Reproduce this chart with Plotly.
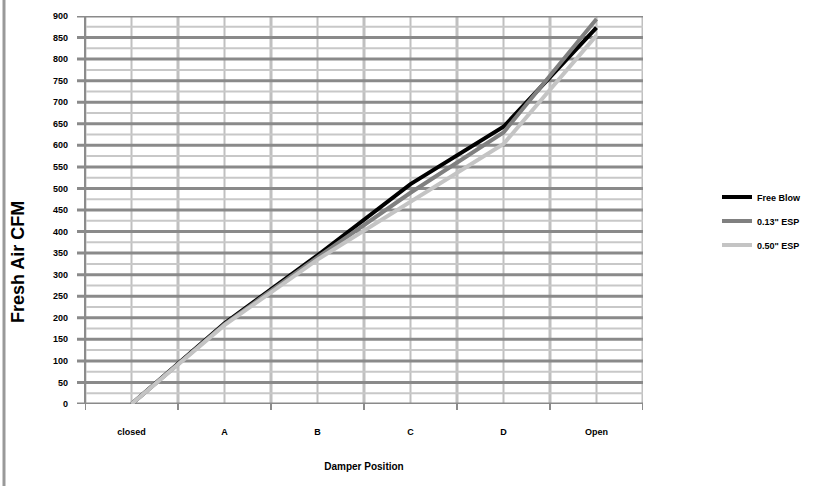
import plotly.graph_objects as go

categories = ["closed", "A", "B", "C", "D", "Open"]
free_blow = [0, 187, 345, 510, 643, 873]
esp_013 = [0, 185, 340, 490, 630, 893]
esp_050 = [0, 183, 335, 470, 603, 855]
y_ticks = list(range(0, 901, 50))

series = [
    ("Free Blow", free_blow, "#000000"),
    ('0.13" ESP', esp_013, "#808080"),
    ('0.50" ESP', esp_050, "#c4c4c4"),
]

FONT = "Liberation Sans, Arial"

fig = go.Figure()
for i, (name, vals, col) in enumerate(series):
    fig.add_trace(go.Scatter(x=list(range(len(categories))), y=vals, name=name,
                             legendgroup=f"g{i}",
                             mode="lines", line=dict(color=col, width=4)))

W, H = 835, 486
L, R, T, B = 85, 192, 16, 82
pw = W - L - R
ph = H - T - B
n = len(categories)

shapes = []
# vertical gridlines at category boundaries and centers
for k in range(2 * n + 1):
    xv = -0.5 + k * 0.5
    shapes.append(dict(type="line", xref="x", yref="paper", x0=xv, x1=xv, y0=0, y1=1,
                       line=dict(color="#c0c0c0", width=3 if k % 2 == 0 else 2), layer="below"))
# horizontal minor lines every 25
for v in range(25, 900, 50):
    shapes.append(dict(type="line", xref="paper", yref="y", x0=0, x1=1, y0=v, y1=v,
                       line=dict(color="#c8c8c8", width=2), layer="below"))
# horizontal major lines every 50
for v in y_ticks:
    shapes.append(dict(type="line", xref="paper", yref="y", x0=-8 / pw, x1=1, y0=v, y1=v,
                       line=dict(color="#8a8a8a", width=3), layer="below"))
# left axis line
shapes.append(dict(type="line", xref="paper", yref="paper", x0=0, x1=0, y0=0, y1=1,
                   line=dict(color="#8c8c8c", width=2), layer="below"))
# x tick marks at category boundaries
for k in range(n + 1):
    xv = -0.5 + k
    shapes.append(dict(type="line", xref="x", yref="paper", x0=xv, x1=xv, y0=0, y1=-6 / ph,
                       line=dict(color="#8c8c8c", width=2)))
# chart outer left border
shapes.append(dict(type="line", xref="paper", yref="paper", x0=-(L - 4) / pw, x1=-(L - 4) / pw,
                   y0=-(B) / ph, y1=1 + T / ph, line=dict(color="#999999", width=3)))

annotations = [
    dict(text="<b>Fresh Air CFM</b>", xref="paper", yref="paper",
         x=(18 - L) / pw, y=1 - (262 - T) / ph, textangle=-90, showarrow=False,
         xanchor="center", yanchor="middle", font=dict(size=18, family=FONT, color="black")),
]

fig.update_layout(
    width=W, height=H,
    margin=dict(l=L, r=R, t=T, b=B),
    paper_bgcolor="white", plot_bgcolor="white",
    font=dict(family=FONT, color="black", size=9),
    showlegend=True,
    legend=dict(x=1 + (717 - 643) / pw, y=0.5 - 11 / ph, xanchor="left", yanchor="middle",
                font=dict(size=9, family=FONT, weight="bold"), tracegroupgap=5,
                itemwidth=30, bgcolor="rgba(0,0,0,0)"),
    xaxis=dict(range=[-0.5, n - 0.5], tickmode="array", tickvals=list(range(n)),
               ticktext=categories, showgrid=False, zeroline=False, showline=False,
               ticks="", ticklabelstandoff=21, automargin=False,
               tickfont=dict(size=9, family=FONT, weight="bold"),
               title=dict(text="Damper Position", font=dict(size=10, family=FONT, weight="bold"),
                          standoff=26)),
    yaxis=dict(range=[0, 900], tickmode="array", tickvals=y_ticks, showgrid=False,
               zeroline=False, showline=False, ticks="", ticklabelstandoff=16, automargin=False,
               tickfont=dict(size=9, family=FONT, weight="bold")),
    shapes=shapes,
    annotations=annotations,
)

fig.write_html("out.html", post_script="document.body.style.margin='0';",
               config={"displayModeBar": False})
